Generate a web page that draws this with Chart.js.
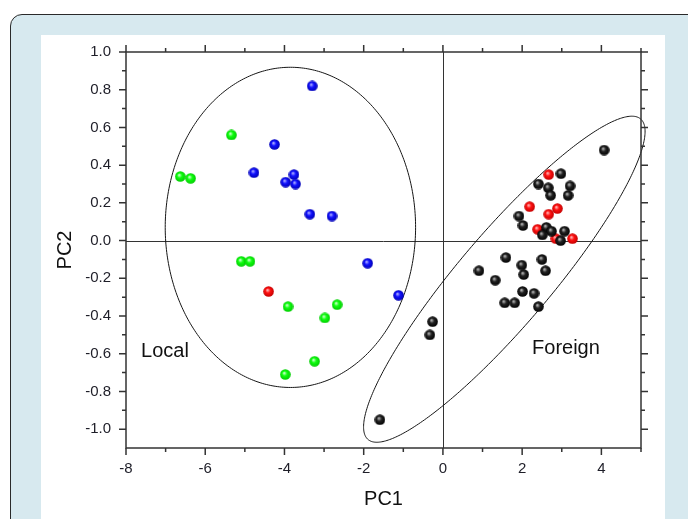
<!DOCTYPE html>
<html>
<head>
<meta charset="utf-8">
<script src="https://cdn.jsdelivr.net/npm/chart.js@4.4.1/dist/chart.umd.min.js"></script>
<style>
  html, body { margin: 0; padding: 0; background: #fff; width: 688px; height: 519px; overflow: hidden; }
  #panel { position: absolute; left: 10px; top: 14px; width: 700px; height: 530px; box-sizing: border-box;
           border: 1.5px solid #2a2a2a; border-radius: 12px; background: #d7e9ef; }
  #sheet { position: absolute; left: 41px; top: 35px; width: 624px; height: 484px; background: #fff; }
  canvas { display: block; }
</style>
</head>
<body>
<div id="panel"></div>
<div id="sheet"><canvas id="pca" width="624" height="484"></canvas></div>
<script>
// PCA scores per sample, [PC1, PC2]
const blueScores = [
  [-3.30, 0.82], [-4.25, 0.51], [-4.77, 0.36], [-3.76, 0.35], [-3.97, 0.31],
  [-3.72, 0.30], [-3.36, 0.14], [-2.80, 0.13], [-1.90, -0.12], [-1.12, -0.29]
];
const greenScores = [
  [-5.34, 0.56], [-6.63, 0.34], [-6.37, 0.33], [-5.09, -0.11], [-4.87, -0.11],
  [-3.91, -0.35], [-2.67, -0.34], [-2.98, -0.41], [-3.24, -0.64], [-3.98, -0.71]
];
const redScores = [
  [-4.40, -0.27], [2.67, 0.35], [2.19, 0.18], [2.89, 0.17], [2.67, 0.14],
  [2.39, 0.06], [3.27, 0.01], [2.85, 0.01]
];
const blackScores = [
  [4.07, 0.48], [2.98, 0.355], [2.41, 0.30], [2.66, 0.28], [3.21, 0.29],
  [2.72, 0.24], [3.16, 0.24], [1.92, 0.13], [2.02, 0.08], [2.61, 0.07],
  [2.74, 0.05], [2.51, 0.03], [3.07, 0.05], [2.97, 0.00], [1.59, -0.09],
  [2.50, -0.10], [1.99, -0.13], [0.91, -0.16], [2.59, -0.16], [2.04, -0.18],
  [1.32, -0.21], [2.01, -0.27], [2.30, -0.28], [1.56, -0.33], [1.81, -0.33],
  [2.41, -0.35], [-0.26, -0.43], [-0.33, -0.50], [-1.59, -0.95]
];

// Group ellipses: centre and the two half-axis vectors, in PC units
const ellipseCentre = [[-3.85, 0.07], [1.55, -0.205]];
const ellipseAxisA  = [[3.16, 0.0],   [3.44, 0.85]];
const ellipseAxisB  = [[0.0, 0.849],  [0.889, -0.158]];

// Group names and where they sit (PC units, left edge / middle)
const groupNames = ['Local', 'Foreign'];
const groupNameAt = [[-7.62, -0.588], [2.25, -0.572]];

// Axis ticks
const xMajor = [-8, -6, -4, -2, 0, 2, 4];
const xMinor = [-7, -5, -3, -1, 1, 3, 5];
const yMajor = [-1.0, -0.8, -0.6, -0.4, -0.2, 0.0, 0.2, 0.4, 0.6, 0.8, 1.0];
const yMinor = [-0.9, -0.7, -0.5, -0.3, -0.1, 0.1, 0.3, 0.5, 0.7, 0.9];

const FONT = '"Liberation Sans", Arial, Helvetica, sans-serif';
Chart.defaults.font.family = FONT;

// Shaded ball used as the point marker
function ball(hi, base, dark) {
  const s = 11, c = document.createElement('canvas');
  c.width = s; c.height = s;
  const g = c.getContext('2d');
  const grad = g.createRadialGradient(4.3, 4.0, 0.3, 5.5, 5.5, 5.6);
  grad.addColorStop(0, hi);
  grad.addColorStop(0.4, base);
  grad.addColorStop(1, dark);
  g.fillStyle = grad;
  g.beginPath(); g.arc(5.5, 5.5, 5.3, 0, Math.PI * 2); g.fill();
  return c;
}
const blackBall = ball('#b8b8b8', '#222222', '#000000');
const redBall   = ball('#ffb8b8', '#ff1010', '#c00000');
const greenBall = ball('#d0ffd0', '#10ff10', '#00c800');
const blueBall  = ball('#b0b0ff', '#1010ff', '#0000b0');

const toPts = arr => arr.map(([x, y]) => ({ x, y }));

const decor = {
  id: 'decor',
  beforeDatasetsDraw(chart) {
    const { ctx, chartArea: ca, scales: { x, y } } = chart;
    ctx.save();
    // zero reference lines
    ctx.strokeStyle = '#333';
    ctx.lineWidth = 1;
    const x0 = Math.round(x.getPixelForValue(0)) + 0.5;
    const y0 = Math.round(y.getPixelForValue(0)) + 0.5;
    ctx.beginPath();
    ctx.moveTo(x0, ca.top); ctx.lineTo(x0, ca.bottom);
    ctx.moveTo(ca.left, y0); ctx.lineTo(ca.right, y0);
    ctx.stroke();
    // group ellipses
    ctx.strokeStyle = '#151515';
    ctx.lineWidth = 1;
    for (let k = 0; k < ellipseCentre.length; k++) {
      const [cx, cy] = ellipseCentre[k], [ax, ay] = ellipseAxisA[k], [bx, by] = ellipseAxisB[k];
      ctx.beginPath();
      const n = 360;
      for (let i = 0; i <= n; i++) {
        const t = i / n * Math.PI * 2;
        const px = x.getPixelForValue(cx + ax * Math.cos(t) + bx * Math.sin(t));
        const py = y.getPixelForValue(cy + ay * Math.cos(t) + by * Math.sin(t));
        if (i === 0) ctx.moveTo(px, py); else ctx.lineTo(px, py);
      }
      ctx.closePath();
      ctx.stroke();
    }
    // group names
    ctx.fillStyle = '#111';
    ctx.font = '20px ' + FONT;
    ctx.textAlign = 'left';
    ctx.textBaseline = 'middle';
    groupNames.forEach((name, i) => {
      ctx.fillText(name, x.getPixelForValue(groupNameAt[i][0]), y.getPixelForValue(groupNameAt[i][1]));
    });
    ctx.restore();
  },
  afterDatasetsDraw(chart) {
    const { ctx, chartArea: ca, scales: { x, y } } = chart;
    ctx.save();
    ctx.strokeStyle = '#333';
    ctx.lineWidth = 1.5;
    ctx.strokeRect(ca.left, ca.top, ca.right - ca.left, ca.bottom - ca.top);
    const MAJ = 7, MIN = 4;
    ctx.beginPath();
    const xt = (v, len) => {
      const p = x.getPixelForValue(v);
      ctx.moveTo(p, ca.bottom); ctx.lineTo(p, ca.bottom + len);
      ctx.moveTo(p, ca.top); ctx.lineTo(p, ca.top - len);
    };
    const yt = (v, len) => {
      const p = y.getPixelForValue(v);
      ctx.moveTo(ca.left, p); ctx.lineTo(ca.left - len, p);
      ctx.moveTo(ca.right, p); ctx.lineTo(ca.right + len, p);
    };
    xMajor.forEach(v => xt(v, MAJ));
    xMinor.forEach(v => xt(v, MIN));
    yMajor.forEach(v => yt(v, MAJ));
    yMinor.forEach(v => yt(v, MIN));
    ctx.stroke();
    ctx.restore();
  }
};

const hiddenGrid = { display: true, drawOnChartArea: false, drawTicks: true, tickLength: 7, tickColor: 'rgba(0,0,0,0)' };

new Chart(document.getElementById('pca'), {
  type: 'scatter',
  data: {
    datasets: [
      { label: 'black', data: toPts(blackScores), pointStyle: blackBall, pointRadius: 5.5 },
      { label: 'red',   data: toPts(redScores),   pointStyle: redBall,   pointRadius: 5.5 },
      { label: 'green', data: toPts(greenScores), pointStyle: greenBall, pointRadius: 5.5 },
      { label: 'blue',  data: toPts(blueScores),  pointStyle: blueBall,  pointRadius: 5.5 }
    ]
  },
  options: {
    responsive: false,
    animation: false,
    events: [],
    devicePixelRatio: 1,
    layout: { padding: { left: 0, right: 24, top: 17, bottom: 0 } },
    plugins: { legend: { display: false }, tooltip: { enabled: false } },
    scales: {
      x: {
        type: 'linear', min: -8, max: 5,
        afterBuildTicks: s => { s.ticks = xMajor.map(v => ({ value: v })); },
        afterFit: s => { s.height = 71; },
        grid: hiddenGrid,
        border: { display: false },
        ticks: { padding: 5, color: '#1e1e28', font: { size: 15 }, callback: v => String(v) },
        title: { display: true, text: 'PC1', color: '#111', font: { size: 20 }, padding: { top: 0, bottom: 8 } }
      },
      y: {
        type: 'linear', min: -1.1, max: 1.0,
        afterBuildTicks: s => { s.ticks = yMajor.map(v => ({ value: v })); },
        afterFit: s => { s.width = 85; },
        grid: hiddenGrid,
        border: { display: false },
        ticks: { padding: 8, color: '#1e1e28', font: { size: 15 }, callback: v => v.toFixed(1) },
        title: { display: true, text: 'PC2', color: '#111', font: { size: 20 }, padding: { top: 12, bottom: 0 } }
      }
    }
  },
  plugins: [decor]
});
</script>
</body>
</html>
